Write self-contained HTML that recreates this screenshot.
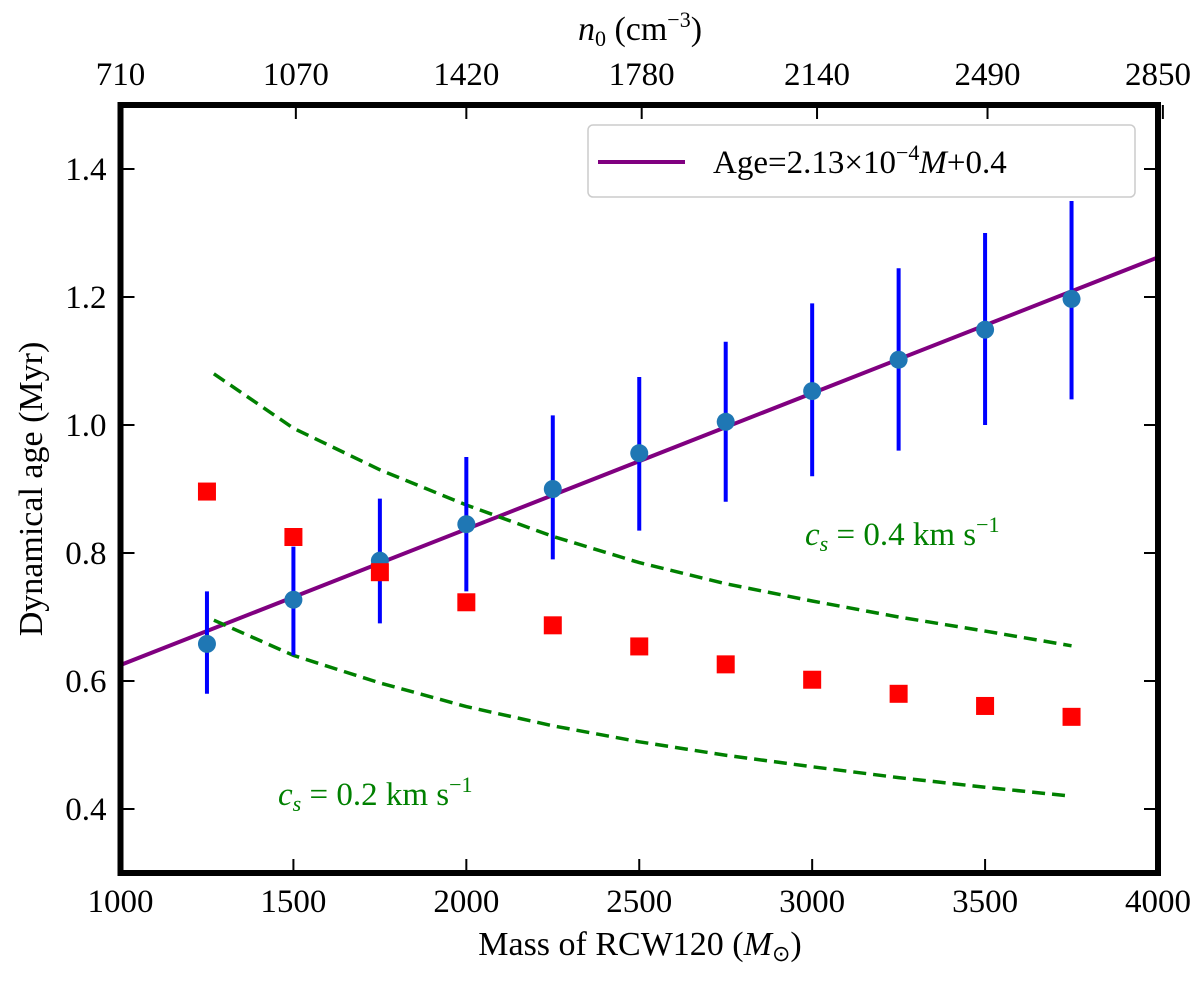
<!DOCTYPE html>
<html><head><meta charset="utf-8"><style>
body{margin:0;background:#fff}
text{font-family:"Liberation Serif",serif;fill:#000}
</style></head><body>
<svg id="c" width="1200" height="978" xmlns="http://www.w3.org/2000/svg"></svg>
<script>
const masses=[1250,1500,1750,2000,2250,2500,2750,3000,3250,3500,3750];
const ageBlue=[0.658,0.727,0.788,0.845,0.900,0.956,1.005,1.053,1.102,1.149,1.197];
const errLow=[0.58,0.64,0.69,0.74,0.79,0.835,0.88,0.92,0.96,1.00,1.04];
const errHigh=[0.74,0.81,0.885,0.95,1.015,1.075,1.13,1.19,1.245,1.30,1.35];
const ageRed=[0.896,0.825,0.77,0.723,0.687,0.654,0.626,0.602,0.580,0.561,0.544];
const dashX=[1270,1500,1750,2000,2250,2500,2750,3000,3250,3500,3750];
const cs04=[1.08,0.995,0.93,0.875,0.826,0.785,0.752,0.725,0.70,0.678,0.655];
const cs02=[0.695,0.64,0.597,0.56,0.53,0.505,0.484,0.466,0.449,0.434,0.42];
const fitX=[1000,4000];
const fitY=[0.625,1.262];
const xTicks=[1000,1500,2000,2500,3000,3500,4000];
const yTicks=[0.4,0.6,0.8,1.0,1.2,1.4];
const topTicks=[710,1070,1420,1780,2140,2490,2850];

const L=120.5,R=1158,T=105,B=873;
const X=m=>L+(m-1000)/3000*(R-L);
const Y=v=>B-(v-0.3)/1.2*(B-T);
const svg=document.getElementById('c');const NS='http://www.w3.org/2000/svg';
function el(tag,attrs,parent){const e=document.createElementNS(NS,tag);for(const k in attrs)e.setAttribute(k,attrs[k]);(parent||svg).appendChild(e);return e;}

let fl=el('line',{x1:X(fitX[0]),y1:Y(fitY[0]),x2:X(fitX[1]),y2:Y(fitY[1]),stroke:'#800080','stroke-width':4});


[[cs04,'cs-0.4-curve'],[cs02,'cs-0.2-curve']].forEach(([arr,n])=>{
 let p=el('polyline',{points:dashX.map((m,i)=>X(m)+','+Y(arr[i])).join(' '),fill:'none',stroke:'#008000','stroke-width':3.5,'stroke-dasharray':'13,7'});
 
 
});
masses.forEach((m,i)=>{
 let e=el('line',{x1:X(m),x2:X(m),y1:Y(errLow[i]),y2:Y(errHigh[i]),stroke:'#0000ff','stroke-width':4});
 
 
});
masses.forEach((m,i)=>{
 let c=el('circle',{cx:X(m),cy:Y(ageBlue[i]),r:9,fill:'#1f77b4'});
 
 
 let s=el('rect',{x:X(m)-9,y:Y(ageRed[i])-9,width:18,height:18,fill:'#ff0000'});
 
 
});
let fr=el('rect',{x:L,y:T,width:R-L,height:B-T,fill:'none',stroke:'#000','stroke-width':6});


xTicks.forEach(t=>{
 el('line',{x1:X(t),x2:X(t),y1:B,y2:B-14,stroke:'#000','stroke-width':2});
 let tx=el('text',{x:X(t),y:B+39,'text-anchor':'middle','font-size':33});tx.textContent=t;
 
 
});
yTicks.forEach(t=>{
 el('line',{x1:L,x2:L+14,y1:Y(t),y2:Y(t),stroke:'#000','stroke-width':2});
 el('line',{x1:R,x2:R-14,y1:Y(t),y2:Y(t),stroke:'#000','stroke-width':2});
 let tx=el('text',{x:L-14,y:Y(t)+11,'text-anchor':'end','font-size':33});tx.textContent=t.toFixed(1);
 
 
});
topTicks.forEach(n=>{
 const x=X(n/0.71);
 el('line',{x1:x,x2:x,y1:T,y2:T+14,stroke:'#000','stroke-width':2});
 let tx=el('text',{x:Math.min(x,1158),y:T-20,'text-anchor':'middle','font-size':33});tx.textContent=n;
 
 
});
</script>
<svg width="1200" height="978" style="position:absolute;left:0;top:0" xmlns="http://www.w3.org/2000/svg">
<text x="640" y="955" text-anchor="middle" font-size="34">Mass of RCW120 (<tspan font-style="italic">M</tspan><tspan font-size="22" dy="6">⊙</tspan><tspan dy="-6">)</tspan></text>
<text x="640" y="40" text-anchor="middle" font-size="34"><tspan font-style="italic">n</tspan><tspan font-size="22" dy="6">0</tspan><tspan dy="-6"> (cm</tspan><tspan font-size="22" dy="-13">−3</tspan><tspan dy="13">)</tspan></text>
<text transform="translate(42,489) rotate(-90)" text-anchor="middle" font-size="34">Dynamical age (Myr)</text>
<g>
<rect x="588" y="125" width="547" height="72" rx="5" fill="#fff" stroke="#ccc" stroke-width="1.5"/>
<line x1="598" y1="162" x2="685" y2="162" stroke="#800080" stroke-width="4"/>
<text x="713" y="173" font-size="33">Age=2.13×10<tspan font-size="22" dy="-13">−4</tspan><tspan dy="13" font-style="italic">M</tspan>+0.4</text>
</g>
<text x="805" y="545" font-size="33" style="fill:#008000"><tspan font-style="italic">c</tspan><tspan font-size="22" dy="6" font-style="italic">s</tspan><tspan dy="-6"> = 0.4 km s</tspan><tspan font-size="22" dy="-13">−1</tspan></text>
<text x="278" y="805" font-size="33" style="fill:#008000"><tspan font-style="italic">c</tspan><tspan font-size="22" dy="6" font-style="italic">s</tspan><tspan dy="-6"> = 0.2 km s</tspan><tspan font-size="22" dy="-13">−1</tspan></text>
</svg>
</body></html>
